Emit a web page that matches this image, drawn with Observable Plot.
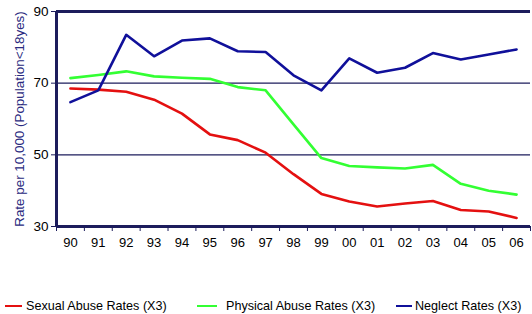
<!DOCTYPE html>
<html><head><meta charset="utf-8">
<script src="https://cdn.jsdelivr.net/npm/d3@7"></script>
<script src="https://cdn.jsdelivr.net/npm/@observablehq/plot@0.6"></script>
<style>
body{margin:0;background:#fff;font-family:"Liberation Sans",Arial,sans-serif;}
#legend{position:relative;height:34px;font-size:12.6px;color:#000;}
.item{position:absolute;top:19px;display:flex;align-items:center;white-space:nowrap;}
.sw{display:inline-block;height:2px;}
</style></head><body>
<div id="chart"></div>
<div id="legend"></div>
<script>
const yearLabels = ["90","91","92","93","94","95","96","97","98","99","00","01","02","03","04","05","06"];
const sexual   = [68.5,68.2,67.6,65.4,61.5,55.7,54.1,50.6,44.6,39.1,37.0,35.6,36.4,37.1,34.6,34.2,32.4];
const physical = [71.4,72.3,73.3,71.9,71.5,71.2,68.9,68.0,58.5,49.1,46.9,46.5,46.2,47.2,41.9,40.0,38.9];
const neglect  = [64.7,68.0,83.5,77.5,81.9,82.5,78.9,78.7,72.2,68.0,76.9,72.9,74.3,78.4,76.6,78.0,79.4];
const seriesNames = ["Sexual Abuse Rates (X3)","Physical Abuse Rates (X3)","Neglect Rates (X3)"];
const seriesColors = ["#e41010","#33ff33","#10109a"];
const yTicks = [30,50,70,90];
const yLabel = "Rate per 10,000 (Population<18yes)";

const rows = [];
[sexual, physical, neglect].forEach((arr, s) => arr.forEach((v, i) => rows.push({i, v, s: seriesNames[s]})));
const idx = yearLabels.map((_, i) => i);
const bounds = [...idx.map(i => i - 0.5), yearLabels.length - 0.5];
const navy = "#1c1c5c";

const plot = Plot.plot({
  width: 532, height: 280,
  marginLeft: 56, marginRight: 2, marginTop: 11, marginBottom: 54,
  style: {fontFamily: "'Liberation Sans', Arial, sans-serif", background: "#fff"},
  x: {type: "linear", domain: [-0.5, yearLabels.length - 0.5]},
  y: {domain: [30, 90]},
  color: {domain: seriesNames, range: seriesColors},
  marks: [
    Plot.ruleY([50, 70], {stroke: navy, strokeWidth: 1.2}),
    Plot.line(rows, {x: "i", y: "v", z: "s", stroke: "s", strokeWidth: 2.6, strokeLinejoin: "round"}),
    Plot.ruleY([30, 90], {stroke: navy, strokeWidth: 3}),
    Plot.ruleX([-0.5], {stroke: navy, strokeWidth: 3}),
    Plot.axisY({ticks: yTicks, tickSize: 5, tickPadding: 3, stroke: navy, fontSize: 13.5, color: "#000",
      label: yLabel, labelAnchor: "center", labelOffset: 42}),
    Plot.axisX({ticks: bounds, tickSize: 5, tickFormat: () => "", stroke: navy, label: null}),
    Plot.axisX({ticks: idx, tickSize: 0, tickPadding: 11, tickFormat: i => yearLabels[i], fontSize: 13, label: null})
  ]
});
plot.querySelectorAll("text").forEach(t => {
  if (t.textContent.startsWith("Rate per")) {
    t.textContent = yLabel;
    t.setAttribute("fill", "#2a2a80");
    t.style.fontSize = "13.4px";
  }
});
document.getElementById("chart").appendChild(plot);

const lefts = [5, 197, 396];
const swW = [17, 20, 16];
const gaps = [4, 9, 3];
const lg = document.getElementById("legend");
seriesNames.forEach((n, k) => {
  const d = document.createElement("div");
  d.className = "item"; d.style.left = lefts[k] + "px";
  d.innerHTML = `<span class="sw" style="background:${seriesColors[k]};width:${swW[k]}px;margin-right:${gaps[k]}px"></span><span>${n}</span>`;
  lg.appendChild(d);
});
</script>
</body></html>
